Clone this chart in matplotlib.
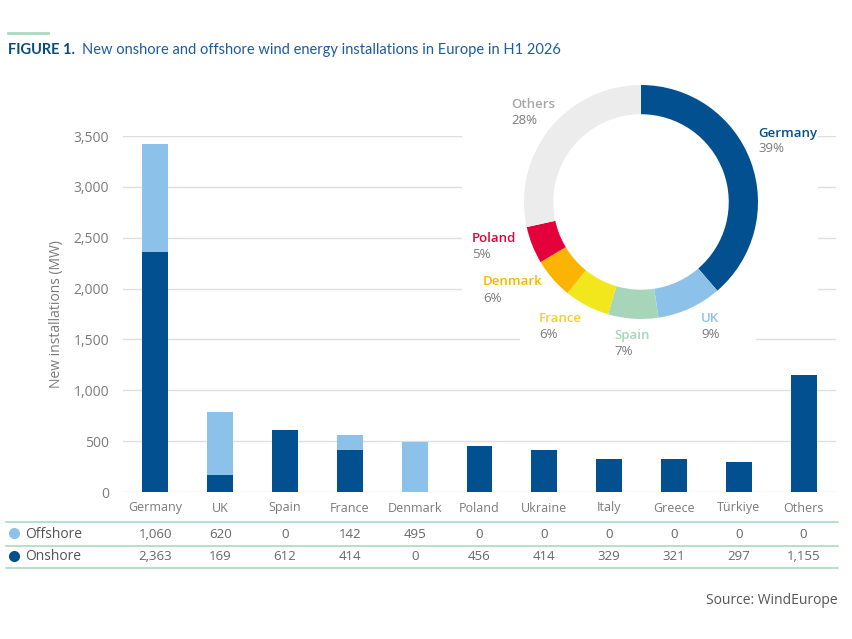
import numpy as np
import matplotlib
matplotlib.use("Agg")
import matplotlib.pyplot as plt
import matplotlib.transforms as mtransforms
from matplotlib.patches import Rectangle

# Data
countries = ["Germany", "UK", "Spain", "France", "Denmark", "Poland",
             "Ukraine", "Italy", "Greece", "Türkiye", "Others"]
offshore = [1060, 620, 0, 142, 495, 0, 0, 0, 0, 0, 0]
onshore = [2363, 169, 612, 414, 0, 456, 414, 329, 321, 297, 1155]
yticks = [0, 500, 1000, 1500, 2000, 2500, 3000, 3500]

# donut: top six countries, the rest grouped
pie_labels = ["Germany", "UK", "Spain", "France", "Denmark", "Poland", "Others"]

# Colours
c_on = "#02508f"
c_off = "#8cc2e9"
pie_colors = ["#02508f", "#8cc2e9", "#a6d5ba", "#f2e61c", "#fbb401", "#e4003b", "#ececec"]
label_colors = ["#02508f", "#8cc2e9", "#a6d5ba", "#f2d21c", "#fbb401", "#e4003b", "#a8a8a8"]
green = "#a9d9c0"
grey = "#7a7a7a"

plt.rcParams["font.family"] = ["Open Sans", "DejaVu Sans"]

W, H = 852, 639
fig = plt.figure(figsize=(W / 100, H / 100), dpi=100)


def fx(x):
    return x / W


def fy(y):
    return 1 - y / H


# Main bar axes
ax = fig.add_axes([fx(123), fy(492), fx(836) - fx(123), fy(136) - fy(492)])
x = np.arange(len(countries))
ax.bar(x, onshore, width=0.4, color=c_on, zorder=2)
ax.bar(x, offshore, width=0.4, bottom=onshore, color=c_off, zorder=2)
ax.set_xlim(-0.5, len(countries) - 0.5)
ax.set_ylim(0, 3500)
ax.set_yticks(yticks)
ax.set_yticklabels([f"{v:,}" for v in yticks], fontsize=10, color=grey)
ax.set_xticks([])
ax.tick_params(axis="y", length=0, pad=10)
ax.grid(axis="y", color="#dedede", linewidth=1, zorder=0)
for s in ax.spines.values():
    s.set_visible(False)
fig.text(fx(57), fy(314), "New installations (MW)", rotation=90, ha="center",
         va="center", fontsize=10, color=grey)

# Table under the bars
tr = mtransforms.blended_transform_factory(ax.transData, fig.transFigure)
for i, name in enumerate(countries):
    fig.text(x[i], fy(508), name, transform=tr, ha="center", va="center",
             fontsize=9, color=grey)
    fig.text(x[i], fy(534), f"{offshore[i]:,}", transform=tr, ha="center",
             va="center", fontsize=9.5, color="#666666")
    fig.text(x[i], fy(557), f"{onshore[i]:,}", transform=tr, ha="center",
             va="center", fontsize=9.5, color="#666666")

for yy in [522, 546, 568]:
    fig.add_artist(plt.Line2D([fx(6), fx(838)], [fy(yy), fy(yy)],
                              color=green, linewidth=1.2))
fig.add_artist(plt.Line2D([fx(14)], [fy(533)], marker="o", markersize=7,
                          color=c_off, linestyle="none"))
fig.add_artist(plt.Line2D([fx(14)], [fy(556)], marker="o", markersize=7,
                          color=c_on, linestyle="none"))
fig.text(fx(25), fy(534), "Offshore", ha="left", va="center", fontsize=10, color="#555555")
fig.text(fx(25), fy(557), "Onshore", ha="left", va="center", fontsize=10, color="#555555")

# white background behind the donut block (gridlines are cut there)
fig.add_artist(Rectangle((fx(462), fy(318)), fx(818) - fx(462), fy(90) - fy(318),
                         transform=fig.transFigure, facecolor="white",
                         edgecolor="none", zorder=1))
fig.add_artist(Rectangle((fx(520), fy(356)), fx(756) - fx(520), fy(300) - fy(356),
                         transform=fig.transFigure, facecolor="white",
                         edgecolor="none", zorder=1))

# Donut
totals = [a + b for a, b in zip(onshore, offshore)]
pie_vals = totals[:6] + [sum(totals[6:])]
ax2 = fig.add_axes([fx(524), fy(319), fx(758) - fx(524), fy(85) - fy(319)], zorder=2)
ax2.pie(pie_vals, colors=pie_colors, startangle=90, counterclock=False,
        radius=1, wedgeprops=dict(width=0.25, edgecolor="none"))
ax2.set_xlim(-1, 1)
ax2.set_ylim(-1, 1)
ax2.set_aspect("equal")
ax2.axis("off")

shares = [round(100 * v / sum(pie_vals)) for v in pie_vals]
label_pos = {
    "Germany": (758, 133), "UK": (701, 318), "Spain": (614, 335),
    "France": (539, 318), "Denmark": (483, 282), "Poland": (472, 238),
    "Others": (511, 104),
}
for name, col, pct in zip(pie_labels, label_colors, shares):
    px, py = label_pos[name]
    fig.text(fx(px), fy(py), name, ha="left", va="center", fontsize=9.5,
             color=col, fontweight="semibold", zorder=4)
    fig.text(fx(px), fy(py + 16), f"{pct}%", ha="left", va="center",
             fontsize=9.5, color=grey, zorder=4)

# Title and decoration
fig.add_artist(plt.Line2D([fx(8), fx(48)], [fy(33), fy(33)], color=green, linewidth=2))
fig.text(fx(8), fy(50), "FIGURE 1.", ha="left", va="center", fontsize=10.5,
         fontweight="bold", color="#0b4a7e", family=["Lato", "DejaVu Sans"])
fig.text(fx(82), fy(50), "New onshore and offshore wind energy installations in Europe in H1 2026",
         ha="left", va="center", fontsize=10.5, color="#1e5b9c", family=["Lato", "DejaVu Sans"])

fig.text(fx(838), fy(600), "Source: WindEurope", ha="right", va="center",
         fontsize=10, color="#555555")

fig.savefig("out.png", dpi=100, facecolor="white")
